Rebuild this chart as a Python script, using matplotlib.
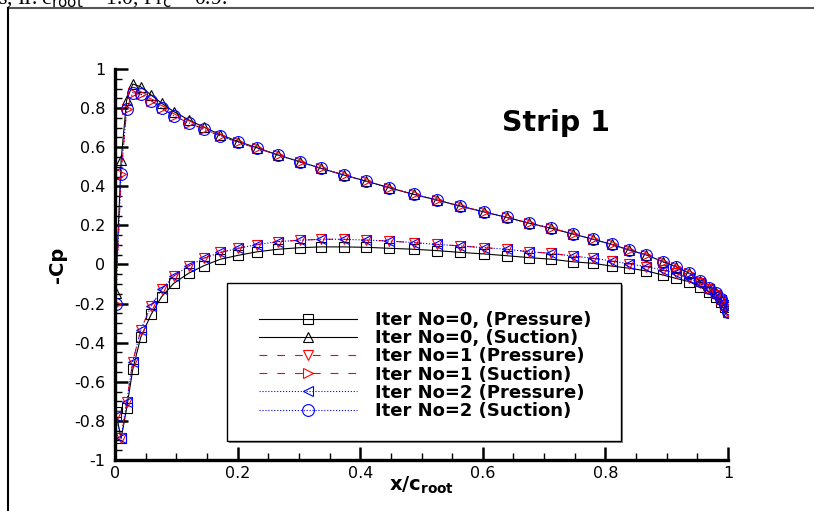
import numpy as np
import matplotlib
matplotlib.use("Agg")
import matplotlib.pyplot as plt
from matplotlib.lines import Line2D
from matplotlib.patches import Rectangle
from matplotlib.ticker import MultipleLocator, FuncFormatter
import matplotlib.transforms as mtransforms

plt.rcParams['axes.unicode_minus'] = False
plt.rcParams['font.family'] = 'DejaVu Sans'

# chordwise stations (same for both surfaces)
x_c = [0.001, 0.01, 0.019, 0.029, 0.042, 0.059, 0.076, 0.096, 0.120, 0.145,
       0.172, 0.201, 0.232, 0.266, 0.301, 0.336, 0.373, 0.409, 0.447, 0.487,
       0.525, 0.563, 0.602, 0.639, 0.676, 0.712, 0.747, 0.780, 0.810, 0.839,
       0.867, 0.894, 0.915, 0.937, 0.954, 0.969, 0.980, 0.988, 0.995, 1.0]

# -Cp, iteration 0
press_0 = [-0.753, -0.889, -0.736, -0.536, -0.372, -0.255, -0.165, -0.096, -0.045, -0.006,
           0.027, 0.047, 0.065, 0.078, 0.086, 0.090, 0.090, 0.088, 0.083, 0.078,
           0.071, 0.062, 0.054, 0.045, 0.035, 0.027, 0.014, 0.006, -0.008, -0.019,
           -0.033, -0.054, -0.071, -0.088, -0.114, -0.139, -0.165, -0.190, -0.216, -0.241]
suct_0 = [-0.144, 0.535, 0.841, 0.923, 0.909, 0.867, 0.825, 0.782, 0.740, 0.702,
          0.664, 0.629, 0.597, 0.560, 0.526, 0.492, 0.458, 0.427, 0.393, 0.359,
          0.330, 0.299, 0.269, 0.241, 0.211, 0.185, 0.156, 0.129, 0.103, 0.074,
          0.049, 0.014, -0.011, -0.045, -0.084, -0.119, -0.147, -0.176, -0.207, -0.241]

# -Cp, iteration 1
press_1 = [-0.775, -0.889, -0.705, -0.497, -0.335, -0.212, -0.127, -0.059, -0.008, 0.032,
           0.062, 0.083, 0.102, 0.117, 0.124, 0.129, 0.129, 0.125, 0.120, 0.112,
           0.103, 0.095, 0.086, 0.078, 0.065, 0.057, 0.043, 0.032, 0.018, 0.003,
           -0.011, -0.028, -0.045, -0.071, -0.096, -0.127, -0.156, -0.182, -0.212, -0.241]
suct_1 = [-0.200, 0.463, 0.794, 0.879, 0.872, 0.838, 0.799, 0.760, 0.725, 0.692,
          0.657, 0.625, 0.594, 0.560, 0.526, 0.492, 0.458, 0.427, 0.393, 0.359,
          0.330, 0.299, 0.269, 0.241, 0.211, 0.185, 0.156, 0.129, 0.103, 0.074,
          0.049, 0.014, -0.011, -0.045, -0.084, -0.119, -0.147, -0.176, -0.207, -0.241]

# -Cp, iteration 2
press_2 = [-0.775, -0.889, -0.705, -0.497, -0.335, -0.212, -0.127, -0.059, -0.008, 0.032,
           0.062, 0.083, 0.102, 0.117, 0.124, 0.129, 0.129, 0.125, 0.120, 0.112,
           0.103, 0.095, 0.086, 0.078, 0.065, 0.057, 0.043, 0.032, 0.018, 0.003,
           -0.011, -0.028, -0.045, -0.071, -0.096, -0.127, -0.156, -0.182, -0.212, -0.241]
suct_2 = [-0.200, 0.463, 0.794, 0.879, 0.872, 0.838, 0.799, 0.760, 0.725, 0.692,
          0.657, 0.625, 0.594, 0.560, 0.526, 0.492, 0.458, 0.427, 0.393, 0.359,
          0.330, 0.299, 0.269, 0.241, 0.211, 0.185, 0.156, 0.129, 0.103, 0.074,
          0.049, 0.014, -0.011, -0.045, -0.084, -0.119, -0.147, -0.176, -0.207, -0.241]

labels = ['Iter No=0, (Pressure)', 'Iter No=0, (Suction)',
          'Iter No=1 (Pressure)', 'Iter No=1 (Suction)',
          'Iter No=2 (Pressure)', 'Iter No=2 (Suction)']

fig = plt.figure(figsize=(8.14, 5.11), dpi=100)
ax = fig.add_axes([115/814, 1 - 460/511, 613/814, 391/511])

lw = 0.8
dash = (0, (7, 9))
series = [
    (press_0, 's', 'black', '-', 6.5),
    (suct_0, '^', 'black', '-', 7.5),
    (press_1, 'v', 'red', dash, 7.5),
    (suct_1, '>', 'red', dash, 7.5),
    (press_2, '<', 'blue', ':', 7.5),
    (suct_2, 'o', 'blue', ':', 8.5),
]
handles = []
for (yv, mk, col, ls, ms), lab in zip(series, labels):
    h, = ax.plot(x_c, yv, color=col, ls=ls, lw=lw, marker=mk, ms=ms,
                 mfc='none', mec=col, mew=0.8, label=lab)
    handles.append(h)

ax.set_xlim(0, 1)
ax.set_ylim(-1, 1)
for s in ['top', 'right']:
    ax.spines[s].set_visible(False)
for s in ['left', 'bottom']:
    ax.spines[s].set_linewidth(2.4)

fmt = FuncFormatter(lambda v, pos: '%g' % round(v, 6))
ax.xaxis.set_major_locator(MultipleLocator(0.2))
ax.xaxis.set_minor_locator(MultipleLocator(0.05))
ax.yaxis.set_major_locator(MultipleLocator(0.2))
ax.yaxis.set_minor_locator(MultipleLocator(0.05))
ax.xaxis.set_major_formatter(fmt)
ax.yaxis.set_major_formatter(fmt)
ax.tick_params(which='major', direction='in', length=9.5, width=1.8, labelsize=11.5)
ax.tick_params(which='minor', direction='in', length=5, width=1)
ax.tick_params(axis='y', which='major', pad=7)
ax.tick_params(axis='x', which='major', pad=4)

ax.set_xlabel(r'x/c$_\mathbf{root}$', fontsize=14, fontweight='bold')
ax.xaxis.set_label_coords(0.5, -0.038)
ax.set_ylabel('-Cp', fontsize=14, fontweight='bold')
ax.yaxis.set_label_coords(-0.078, 0.5)

ax.text(0.72, 0.724, 'Strip 1', fontsize=20.5, fontweight='bold',
        ha='center', va='center')

# legend box with drop shadow
x0, y0 = (227 - 115) / 613, 1 - (441 - 69) / 391
w, h = (621 - 227) / 613, (441 - 283) / 391
shadow_tr = mtransforms.offset_copy(ax.transAxes, fig=fig, x=2, y=-2, units='dots')
ax.add_patch(Rectangle((x0, y0), w, h, transform=shadow_tr, facecolor='#888888',
                       edgecolor='none', zorder=5))
ax.add_patch(Rectangle((x0, y0), w, h, transform=ax.transAxes, facecolor='white',
                       edgecolor='black', lw=1, zorder=6))
leg = ax.legend(handles=handles, loc='upper left',
                bbox_to_anchor=((259 - 115) / 613, 1 - (311 - 69) / 391),
                frameon=False, numpoints=1, handlelength=5.43, handletextpad=1.0,
                borderpad=0, borderaxespad=0, labelspacing=0.01,
                prop={'weight': 'bold', 'size': 13})
leg.set_zorder(7)

# page frame and the caption line above it
fig.add_artist(Line2D([8/814, 1], [1 - 8/511, 1 - 8/511], color='#555555', lw=1.5))
fig.add_artist(Line2D([8/814, 8/814], [0, 1 - 8/511], color='black', lw=1.5))
fig.text(-0.002, 1 - 4/511, r's, II. c$_\mathrm{root}$ = 1.0, Pr$_\mathrm{c}$ = 0.9.',
         fontsize=15.5, family='Liberation Serif', va='baseline')

fig.savefig('out.png', dpi=100)
